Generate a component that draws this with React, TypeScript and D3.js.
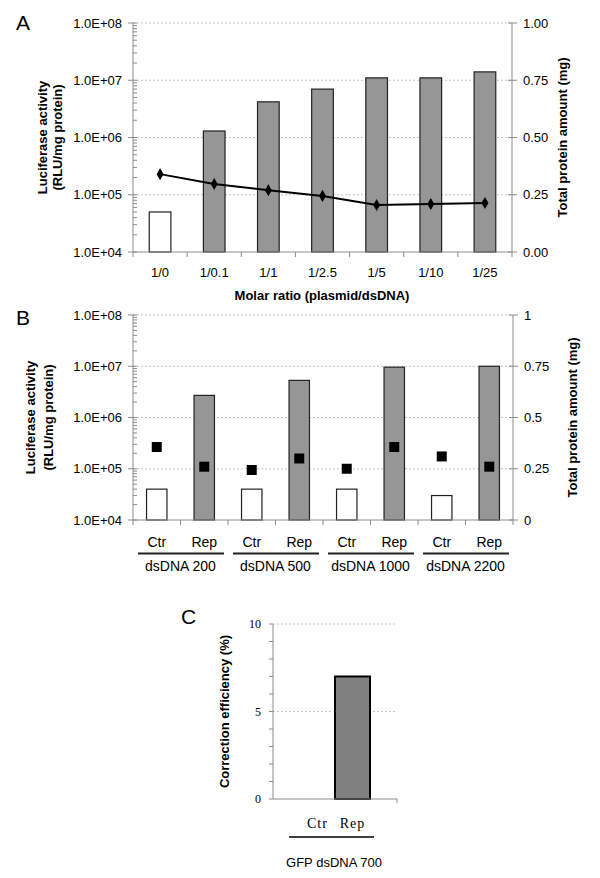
import React from 'react';
import * as d3 from 'd3';

// ---------- Panel A data ----------
const catsA = ['1/0', '1/0.1', '1/1', '1/2.5', '1/5', '1/10', '1/25'];
const lucA = [5.0e4, 1.3e6, 4.2e6, 7.0e6, 1.1e7, 1.1e7, 1.4e7];
const protA = [0.34, 0.297, 0.27, 0.245, 0.205, 0.21, 0.214];
const logTicks = [1e4, 1e5, 1e6, 1e7, 1e8];
const logLabels = ['1.0E+04', '1.0E+05', '1.0E+06', '1.0E+07', '1.0E+08'];
const rightTicks = [0, 0.25, 0.5, 0.75, 1];
const rightLabelsA = ['0.00', '0.25', '0.50', '0.75', '1.00'];

// ---------- Panel B data ----------
const groupsB = ['dsDNA 200', 'dsDNA 500', 'dsDNA 1000', 'dsDNA 2200'];
const subsB = ['Ctr', 'Rep'];
const lucB = [4.0e4, 2.7e6, 4.0e4, 5.3e6, 4.0e4, 9.6e6, 3.0e4, 1.0e7];
const protB = [0.356, 0.26, 0.244, 0.3, 0.25, 0.356, 0.31, 0.26];
const rightLabelsB = ['0', '0.25', '0.5', '0.75', '1'];

// ---------- Panel C data ----------
const groupC = ['GFP dsDNA 700'];
const seriesC = ['Ctr', 'Rep'];
const valC = [0, 7];
const ticksC = [0, 5, 10];

const SANS = '"Liberation Sans", Arial, sans-serif';
const SERIF = '"Liberation Serif", "Times New Roman", serif';
const AX = '#8c8c8c';
const GRID = '#c4c4c4';
const BAR = '#969696';

function LogLeftAxis({ y, x, labelX }: any) {
  const minors: number[] = [];
  for (let d = 1e4; d < 1e8; d *= 10) for (let k = 2; k <= 9; k++) minors.push(d * k);
  return (
    <g>
      <line x1={x} x2={x} y1={y(1e4)} y2={y(1e8)} stroke={AX} />
      {minors.map((m, i) => (
        <line key={i} x1={x} x2={x + 4} y1={y(m)} y2={y(m)} stroke={AX} />
      ))}
      {logTicks.map((t, i) => (
        <g key={i}>
          <line x1={x - 5} x2={x + 4} y1={y(t)} y2={y(t)} stroke={AX} />
          <text x={labelX} y={y(t) + 4.5} textAnchor="end" fontSize={13} fontFamily={SANS}>
            {logLabels[i]}
          </text>
        </g>
      ))}
    </g>
  );
}

function PanelA() {
  const left = 133, right = 512, top = 23, bottom = 252;
  const x = d3.scaleBand().domain(catsA).range([left, right]).paddingInner(0.6).paddingOuter(0.3);
  const step = x.step();
  const y = d3.scaleLog().domain([1e4, 1e8]).range([bottom, top]);
  const y2 = d3.scaleLinear().domain([0, 1]).range([bottom, top]);
  const line = d3
    .line<number>()
    .x((_, i) => (x(catsA[i]) as number) + x.bandwidth() / 2)
    .y((d) => y2(d));
  const diamond = d3.symbol().type(d3.symbolDiamond).size(42)();
  const bounds = d3.range(catsA.length + 1).map((i) => left + i * ((right - left) / catsA.length));
  return (
    <g>
      <text x={16} y={30} fontSize={21} fontFamily={SANS}>A</text>
      {logTicks.slice(1).map((t, i) => (
        <line key={i} x1={left} x2={right} y1={y(t)} y2={y(t)} stroke={GRID} strokeDasharray="2,2" />
      ))}
      {catsA.map((c, i) => (
        <rect
          key={c}
          x={x(c)}
          y={y(lucA[i])}
          width={x.bandwidth()}
          height={bottom - y(lucA[i])}
          fill={i === 0 ? '#ffffff' : BAR}
          stroke="#222"
          strokeWidth={1.2}
        />
      ))}
      <line x1={left} x2={right} y1={bottom} y2={bottom} stroke={AX} />
      {bounds.map((b, i) => (
        <line key={i} x1={b} x2={b} y1={bottom} y2={bottom + 5} stroke={AX} />
      ))}
      {catsA.map((c) => (
        <text key={c} x={(x(c) as number) + x.bandwidth() / 2} y={277} textAnchor="middle" fontSize={13} fontFamily={SANS}>
          {c}
        </text>
      ))}
      <path d={line(protA) as string} fill="none" stroke="#000" strokeWidth={2} />
      {protA.map((v, i) => (
        <path
          key={i}
          d={diamond as string}
          transform={`translate(${(x(catsA[i]) as number) + x.bandwidth() / 2},${y2(v)})`}
          fill="#000"
        />
      ))}
      <LogLeftAxis y={y} x={left} labelX={122} />
      <line x1={right} x2={right} y1={bottom} y2={top} stroke={AX} />
      {rightTicks.map((t, i) => (
        <g key={i}>
          <line x1={right - 4} x2={right + 5} y1={y2(t)} y2={y2(t)} stroke={AX} />
          <text x={523} y={y2(t) + 4.5} fontSize={13} fontFamily={SANS}>{rightLabelsA[i]}</text>
        </g>
      ))}
      <text x={322} y={300} textAnchor="middle" fontSize={13} fontWeight="bold" fontFamily={SANS}>
        Molar ratio (plasmid/dsDNA)
      </text>
      <text transform={`translate(47,${(top + bottom) / 2}) rotate(-90)`} textAnchor="middle" fontSize={13} fontWeight="bold" fontFamily={SANS}>
        Luciferase activity
      </text>
      <text transform={`translate(62,${(top + bottom) / 2}) rotate(-90)`} textAnchor="middle" fontSize={13} fontWeight="bold" fontFamily={SANS}>
        (RLU/mg protein)
      </text>
      <text transform={`translate(567,${(top + bottom) / 2}) rotate(-90)`} textAnchor="middle" fontSize={13} fontWeight="bold" fontFamily={SANS}>
        Total protein amount (mg)
      </text>
    </g>
  );
}

function PanelB() {
  const left = 133, right = 513, top = 315, bottom = 520;
  const keys = groupsB.flatMap((g) => subsB.map((s) => `${g}|${s}`));
  const x = d3.scaleBand().domain(keys).range([left, right]).paddingInner(0.57).paddingOuter(0.285);
  const g0 = d3.scaleBand().domain(groupsB).range([left, right]);
  const y = d3.scaleLog().domain([1e4, 1e8]).range([bottom, top]);
  const y2 = d3.scaleLinear().domain([0, 1]).range([bottom, top]);
  const bounds = d3.range(keys.length + 1).map((i) => left + i * ((right - left) / keys.length));
  const sq = 10;
  return (
    <g>
      <text x={16} y={325} fontSize={21} fontFamily={SANS}>B</text>
      {logTicks.slice(1).map((t, i) => (
        <line key={i} x1={left} x2={right} y1={y(t)} y2={y(t)} stroke={GRID} strokeDasharray="2,2" />
      ))}
      {keys.map((k, i) => (
        <rect
          key={k}
          x={x(k)}
          y={y(lucB[i])}
          width={x.bandwidth()}
          height={bottom - y(lucB[i])}
          fill={i % 2 === 0 ? '#ffffff' : BAR}
          stroke="#222"
          strokeWidth={1.2}
        />
      ))}
      {keys.map((k, i) => (
        <rect
          key={'s' + k}
          x={(x(k) as number) + x.bandwidth() / 2 - sq / 2}
          y={y2(protB[i]) - sq / 2}
          width={sq}
          height={sq}
          fill="#000"
        />
      ))}
      <line x1={left} x2={right} y1={bottom} y2={bottom} stroke={AX} />
      {bounds.map((b, i) => (
        <line key={i} x1={b} x2={b} y1={bottom} y2={bottom + 5} stroke={AX} />
      ))}
      {keys.map((k) => (
        <text key={'l' + k} x={(x(k) as number) + x.bandwidth() / 2} y={547} textAnchor="middle" fontSize={14} fontFamily={SANS}>
          {k.split('|')[1]}
        </text>
      ))}
      {groupsB.map((g) => (
        <g key={g}>
          <line x1={(g0(g) as number) + 5} x2={(g0(g) as number) + g0.bandwidth() - 4} y1={553.5} y2={553.5} stroke="#222" strokeWidth={2} />
          <text x={(g0(g) as number) + g0.bandwidth() / 2} y={571} textAnchor="middle" fontSize={14} fontFamily={SANS}>
            {g}
          </text>
        </g>
      ))}
      <LogLeftAxis y={y} x={left} labelX={122} />
      <line x1={right} x2={right} y1={bottom} y2={top} stroke={AX} />
      {rightTicks.map((t, i) => (
        <g key={i}>
          <line x1={right - 4} x2={right + 5} y1={y2(t)} y2={y2(t)} stroke={AX} />
          <text x={524} y={y2(t) + 4.5} fontSize={13} fontFamily={SANS}>{rightLabelsB[i]}</text>
        </g>
      ))}
      <text transform={`translate(35,${(top + bottom) / 2}) rotate(-90)`} textAnchor="middle" fontSize={13} fontWeight="bold" fontFamily={SANS}>
        Luciferase activity
      </text>
      <text transform={`translate(53,${(top + bottom) / 2}) rotate(-90)`} textAnchor="middle" fontSize={13} fontWeight="bold" fontFamily={SANS}>
        (RLU/mg protein)
      </text>
      <text transform={`translate(577,${(top + bottom) / 2}) rotate(-90)`} textAnchor="middle" fontSize={13} fontWeight="bold" fontFamily={SANS}>
        Total protein amount (mg)
      </text>
    </g>
  );
}

function PanelC() {
  const left = 273, right = 397, top = 624, bottom = 799;
  const x0 = d3.scaleBand().domain(groupC).range([left, right]);
  const x1 = d3.scaleBand().domain(seriesC).range([0, x0.bandwidth()]).paddingOuter(0.77);
  const y = d3.scaleLinear().domain([0, 10]).range([bottom, top]);
  const gx = x0(groupC[0]) as number;
  return (
    <g>
      <text x={181} y={624} fontSize={21} fontFamily={SANS}>C</text>
      {[5, 10].map((t) => (
        <line key={t} x1={left} x2={right} y1={y(t)} y2={y(t)} stroke={GRID} strokeDasharray="2,2" />
      ))}
      {seriesC.map((s, i) =>
        valC[i] > 0 ? (
          <rect
            key={s}
            x={gx + (x1(s) as number)}
            y={y(valC[i])}
            width={x1.bandwidth()}
            height={bottom - y(valC[i])}
            fill="#808080"
            stroke="#000"
            strokeWidth={2}
          />
        ) : null
      )}
      <line x1={left} x2={left} y1={bottom} y2={top} stroke={AX} />
      {d3.range(0, 11).map((t) => (
        <line key={t} x1={left - 4} x2={left} y1={y(t)} y2={y(t)} stroke={AX} />
      ))}
      {ticksC.map((t) => (
        <text key={t} x={261} y={y(t) + 4} textAnchor="end" fontSize={12} fontFamily={SERIF}>{t}</text>
      ))}
      <line x1={left} x2={right} y1={bottom} y2={bottom} stroke={AX} />
      <line x1={right} x2={right} y1={bottom} y2={bottom + 4} stroke={AX} />
      {seriesC.map((s) => (
        <text key={s} x={gx + (x1(s) as number) + x1.bandwidth() / 2} y={828} textAnchor="middle" fontSize={14} fontFamily={SERIF} letterSpacing={1}>
          {s}
        </text>
      ))}
      <line x1={289} x2={374} y1={837} y2={837} stroke="#000" strokeWidth={1.3} />
      <text x={gx + x0.bandwidth() / 2 - 1} y={867} textAnchor="middle" fontSize={13} fontFamily={SANS}>
        {groupC[0]}
      </text>
      <text transform={`translate(229,${(top + bottom) / 2}) rotate(-90)`} textAnchor="middle" fontSize={13} fontWeight="bold" fontFamily={SANS}>
        Correction efficiency (%)
      </text>
    </g>
  );
}

export default function App() {
  return (
    <svg
      width={600}
      height={878}
      viewBox="0 0 600 878"
      style={{ position: 'absolute', left: 0, top: 0, background: '#fff' }}
    >
      <rect width={600} height={878} fill="#fff" />
      <PanelA />
      <PanelB />
      <PanelC />
    </svg>
  );
}
